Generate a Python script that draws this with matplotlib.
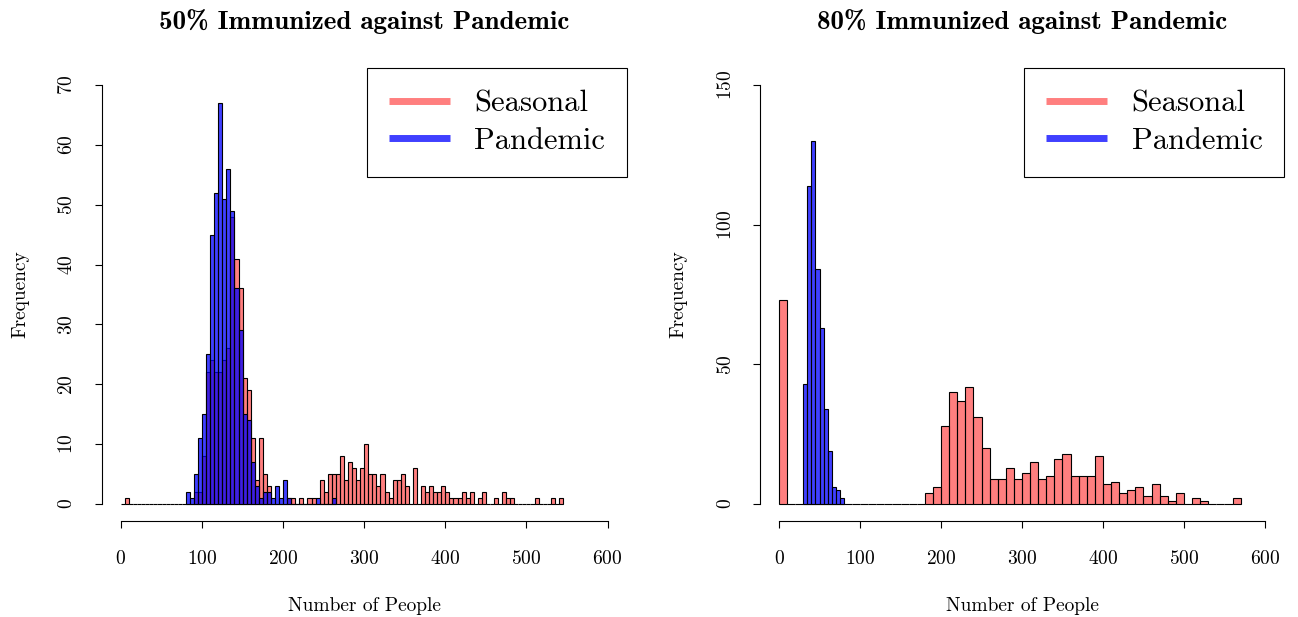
import numpy as np
import matplotlib.pyplot as plt
from matplotlib.lines import Line2D

plt.rcParams['font.family'] = 'cmr10'
plt.rcParams['axes.unicode_minus'] = False
plt.rcParams['axes.formatter.use_mathtext'] = True

# 50% immunized: counts per 5-person bin
seasonal_50_start = 0
seasonal_50_width = 5
seasonal_50 = [0, 1, 0, 0, 0, 0, 0, 0, 0, 0,
               0, 0, 0, 0, 0, 0, 0, 0, 2, 2,
               8, 22, 24, 22, 22, 24, 26, 48, 41, 36,
               21, 19, 11, 4, 11, 5, 3, 0, 0, 0,
               0, 1, 1, 0, 1, 0, 1, 1, 0, 4,
               2, 5, 5, 5, 8, 4, 7, 6, 4, 6,
               10, 5, 5, 3, 5, 2, 1, 4, 4, 5,
               3, 0, 6, 0, 3, 2, 3, 2, 2, 3,
               2, 1, 1, 1, 2, 1, 2, 0, 1, 2,
               0, 0, 1, 0, 2, 1, 1, 0, 0, 0,
               0, 0, 1, 0, 0, 0, 1, 0, 1]

pandemic_50_start = 80
pandemic_50_width = 5
pandemic_50 = [2, 1, 5, 11,
               15, 25, 45, 52, 67, 51, 56, 49, 36, 29,
               15, 14, 7, 3, 1, 2, 2, 1, 3, 1,
               4, 1, 0, 0, 0, 0, 0, 0, 1, 0,
               0, 0, 1]

# 80% immunized
seasonal_80_start = 0
seasonal_80_width = 10
seasonal_80 = [73, 0, 0, 0, 0, 0, 0, 0, 0, 0,
               0, 0, 0, 0, 0, 0, 0, 0, 4, 6,
               28, 40, 37, 42, 31, 20, 9, 9, 13, 9,
               11, 15, 9, 10, 16, 18, 10, 10, 10, 17,
               7, 8, 4, 5, 6, 3, 7, 3, 1, 4,
               0, 2, 1, 0, 0, 0, 2]

pandemic_80_start = 30
pandemic_80_width = 5
pandemic_80 = [43, 114, 130, 84, 63, 34, 19, 6, 5, 2]

seasonal_col = (1, 0, 0, 0.5)
pandemic_col = (0, 0, 1, 0.75)


def draw_hist(ax, start, width, counts, col):
    edges = start + width * np.arange(len(counts))
    ax.bar(edges, counts, width=width, align='edge', color=col,
           edgecolor='black', linewidth=0.8)


def style_axes(ax, ymax, yticks, title):
    ax.set_xlim(-24, 624)
    ax.set_ylim(-0.04 * ymax, 1.04 * ymax)
    for s in ['top', 'right']:
        ax.spines[s].set_visible(False)
    ax.spines['left'].set_bounds(0, ymax)
    ax.spines['bottom'].set_bounds(0, 600)
    ax.spines['left'].set_linewidth(0.8)
    ax.spines['bottom'].set_linewidth(0.8)
    ax.set_xticks(np.arange(0, 601, 100))
    ax.set_yticks(yticks)
    ax.tick_params(direction='out', length=5, width=0.8, labelsize=14)
    ax.tick_params(axis='x', pad=16)
    ax.tick_params(axis='y', pad=13)
    for lab in ax.get_yticklabels():
        lab.set_rotation(90)
        lab.set_va('center')
        lab.set_ha('right')
    ax.set_xlabel('Number of People', fontsize=14, va='center')
    ax.xaxis.set_label_coords(0.5, -0.1885)
    ax.set_ylabel('Frequency', fontsize=14, va='center')
    ax.yaxis.set_label_coords(-0.155, 0.5)
    ax.text(0.5, 1.104, title, transform=ax.transAxes, ha='center',
            va='center', fontsize=19.5, family='cmb10')
    handles = [Line2D([0], [0], color=seasonal_col, lw=5, solid_capstyle='butt'),
               Line2D([0], [0], color=pandemic_col, lw=5, solid_capstyle='butt')]
    leg = ax.legend(handles, ['Seasonal', 'Pandemic'], loc='upper right',
                    bbox_to_anchor=(1, 1), borderaxespad=0, fontsize=22,
                    fancybox=False, edgecolor='black', framealpha=1,
                    handlelength=2.0, handletextpad=0.8, borderpad=0.72,
                    labelspacing=0.32)
    leg.get_frame().set_linewidth(0.8)


fig = plt.figure(figsize=(12.98, 6.17), dpi=100)
ax1 = fig.add_axes([101.5 / 1298, 96.3 / 617, 525.5 / 1298, 452.5 / 617])
ax2 = fig.add_axes([759.6 / 1298, 96.3 / 617, 524.8 / 1298, 452.5 / 617])

draw_hist(ax1, seasonal_50_start, seasonal_50_width, seasonal_50, seasonal_col)
draw_hist(ax1, pandemic_50_start, pandemic_50_width, pandemic_50, pandemic_col)
style_axes(ax1, 70, np.arange(0, 71, 10), '50% Immunized against Pandemic')

draw_hist(ax2, seasonal_80_start, seasonal_80_width, seasonal_80, seasonal_col)
draw_hist(ax2, pandemic_80_start, pandemic_80_width, pandemic_80, pandemic_col)
style_axes(ax2, 150, [0, 50, 100, 150], '80% Immunized against Pandemic')

fig.savefig('out.png', dpi=100)
